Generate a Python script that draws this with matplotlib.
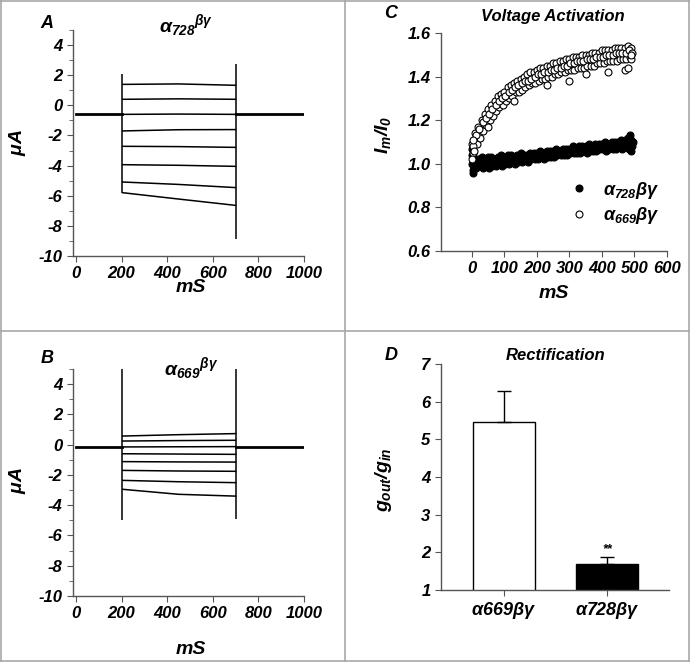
import numpy as np
import matplotlib
matplotlib.use('Agg')
import matplotlib.pyplot as plt
from matplotlib.lines import Line2D
from matplotlib.ticker import MultipleLocator, FormatStrFormatter

plt.rcParams['font.family'] = ['Liberation Sans', 'DejaVu Sans']
plt.rcParams['font.weight'] = 'bold'
plt.rcParams['font.style'] = 'italic'
plt.rcParams['axes.unicode_minus'] = False
plt.rcParams['mathtext.fontset'] = 'custom'
plt.rcParams['mathtext.rm'] = 'Liberation Sans:bold:italic'
plt.rcParams['mathtext.it'] = 'Liberation Sans:bold:italic'
plt.rcParams['mathtext.bf'] = 'Liberation Sans:bold:italic'

# ---- panel A: alpha728 beta gamma current traces (uA) ----
a_base = -0.6
a_start = [1.39, 0.40, -0.60, -1.70, -2.72, -3.94, -5.09, -5.80]
a_mid = [1.42, 0.43, -0.58, -1.62, -2.74, -3.98, -5.25, -6.22]
a_end = [1.33, 0.40, -0.60, -1.61, -2.79, -4.05, -5.46, -6.64]
a_spike_t = [200, 700]
a_spike_lo = [-5.80, -8.85]
a_spike_hi = [2.06, 2.77]

# ---- panel B: alpha669 beta gamma current traces (uA) ----
b_base = -0.15
b_start = [0.57, 0.24, -0.15, -0.60, -1.12, -1.70, -2.36, -2.95]
b_mid = [0.66, 0.27, -0.14, -0.62, -1.14, -1.74, -2.45, -3.28]
b_end = [0.73, 0.29, -0.13, -0.64, -1.15, -1.76, -2.51, -3.40]
b_spike_t = [200, 700]
b_spike_lo = [-5.0, -4.9]
b_spike_hi = [5.0, 5.0]

trace_t = [205, 450, 700]

# ---- panel C: voltage activation Im/I0 ----
c728_t1 = list(range(0, 500, 10))
c728_y1 = [1.00, 1.02, 1.02, 1.03, 1.02, 1.03, 1.03, 1.02, 1.03, 1.04,
           1.03, 1.04, 1.04, 1.03, 1.04, 1.05, 1.04, 1.04, 1.05, 1.05,
           1.05, 1.06, 1.05, 1.06, 1.06, 1.06, 1.07, 1.06, 1.07, 1.07,
           1.07, 1.08, 1.07, 1.08, 1.08, 1.08, 1.09, 1.08, 1.09, 1.09,
           1.09, 1.10, 1.09, 1.10, 1.10, 1.10, 1.11, 1.11, 1.12, 1.11]
c728_t2 = list(range(3, 500, 10))
c728_y2 = [0.97, 0.98, 0.99, 0.98, 0.99, 0.98, 0.99, 0.99, 1.00, 0.99,
           1.00, 1.00, 1.01, 1.00, 1.01, 1.01, 1.02, 1.01, 1.02, 1.02,
           1.02, 1.03, 1.02, 1.03, 1.03, 1.03, 1.04, 1.04, 1.04, 1.04,
           1.05, 1.05, 1.05, 1.05, 1.06, 1.05, 1.06, 1.06, 1.06, 1.07,
           1.07, 1.06, 1.07, 1.07, 1.07, 1.08, 1.07, 1.08, 1.07, 1.08]
c728_t3 = list(range(6, 500, 10))
c728_y3 = [0.99, 1.00, 1.01, 1.00, 1.01, 1.00, 1.01, 1.01, 1.02, 1.01,
           1.02, 1.02, 1.03, 1.02, 1.03, 1.03, 1.03, 1.03, 1.04, 1.03,
           1.04, 1.04, 1.04, 1.05, 1.04, 1.05, 1.05, 1.05, 1.06, 1.05,
           1.06, 1.06, 1.06, 1.07, 1.07, 1.07, 1.07, 1.07, 1.08, 1.08,
           1.08, 1.08, 1.08, 1.09, 1.08, 1.09, 1.09, 1.10, 1.09, 1.10]
c728_t4 = [1, 2, 4, 480, 485, 490]
c728_y4 = [1.04, 1.07, 0.96, 1.12, 1.13, 1.06]

c669_t1 = list(range(0, 500, 10))
c669_y1 = [1.09, 1.14, 1.17, 1.20, 1.23, 1.25, 1.27, 1.29, 1.31, 1.32,
           1.33, 1.35, 1.36, 1.37, 1.38, 1.39, 1.40, 1.41, 1.42, 1.42,
           1.43, 1.44, 1.44, 1.45, 1.45, 1.46, 1.46, 1.47, 1.47, 1.48,
           1.48, 1.49, 1.49, 1.49, 1.50, 1.50, 1.50, 1.51, 1.51, 1.51,
           1.52, 1.52, 1.52, 1.52, 1.53, 1.53, 1.53, 1.53, 1.54, 1.53]
c669_t2 = list(range(5, 495, 10)) + [489]
c669_y2 = [1.05, 1.09, 1.12, 1.15, 1.18, 1.20, 1.22, 1.24, 1.26, 1.27,
           1.29, 1.30, 1.31, 1.33, 1.33, 1.34, 1.35, 1.36, 1.37, 1.37,
           1.38, 1.39, 1.39, 1.40, 1.40, 1.41, 1.41, 1.42, 1.42, 1.43,
           1.43, 1.43, 1.44, 1.44, 1.44, 1.45, 1.45, 1.45, 1.46, 1.46,
           1.46, 1.47, 1.47, 1.47, 1.47, 1.48, 1.48, 1.48, 1.49, 1.48]
c669_t3 = list(range(3, 500, 10))
c669_y3 = [1.08, 1.13, 1.16, 1.19, 1.21, 1.23, 1.25, 1.27, 1.29, 1.30,
           1.31, 1.33, 1.34, 1.35, 1.36, 1.37, 1.38, 1.38, 1.39, 1.40,
           1.41, 1.41, 1.42, 1.42, 1.43, 1.43, 1.44, 1.44, 1.45, 1.45,
           1.46, 1.46, 1.47, 1.47, 1.47, 1.48, 1.48, 1.48, 1.49, 1.49,
           1.49, 1.50, 1.50, 1.50, 1.51, 1.51, 1.51, 1.51, 1.52, 1.51]
c669_t4 = [2, 4, 8, 50, 130, 230, 300, 350, 420, 470, 480, 490]
c669_y4 = [1.02, 1.11, 1.06, 1.17, 1.29, 1.36, 1.38, 1.41, 1.42, 1.43, 1.44, 1.50]

# ---- panel D: rectification ----
d_labels = [r'$\alpha669\beta\gamma$', r'$\alpha728\beta\gamma$']
d_values = [5.47, 1.70]
d_errors = [0.81, 0.17]
d_colors = ['white', 'black']

spine_col = '#555555'

fig = plt.figure(figsize=(6.9, 6.62), dpi=100)


def style_axes(ax):
    for s in ['top', 'right']:
        ax.spines[s].set_visible(False)
    for s in ['left', 'bottom']:
        ax.spines[s].set_color(spine_col)
        ax.spines[s].set_linewidth(1.0)
    ax.tick_params(which='both', direction='out', color=spine_col, labelsize=12)
    ax.tick_params(which='major', length=4)
    ax.tick_params(which='minor', length=3)


def draw_traces(ax, base, start, mid, end, sp_t, sp_lo, sp_hi):
    ax.plot([0, 200], [base, base], color='black', lw=2.0)
    ax.plot([700, 1000], [base, base], color='black', lw=2.0)
    for s, m, e in zip(start, mid, end):
        ax.plot(trace_t, [s, m, e], color='black', lw=1.1)
    ax.vlines(sp_t, sp_lo, sp_hi, color='black', lw=1.1)
    ax.set_xlim(-13, 1000)
    ax.set_ylim(-10, 5)
    ax.xaxis.set_major_locator(MultipleLocator(200))
    ax.yaxis.set_major_locator(MultipleLocator(2))
    ax.yaxis.set_minor_locator(MultipleLocator(1))
    style_axes(ax)


# panel A
axA = fig.add_axes([0.1058, 0.6133, 0.3348, 0.3414])
draw_traces(axA, a_base, a_start, a_mid, a_end, a_spike_t, a_spike_lo, a_spike_hi)

# panel B
axB = fig.add_axes([0.1058, 0.0997, 0.3348, 0.3429])
draw_traces(axB, b_base, b_start, b_mid, b_end, b_spike_t, b_spike_lo, b_spike_hi)

# panel C
axC = fig.add_axes([0.639, 0.6208, 0.3277, 0.3294])
t728 = c728_t1 + c728_t2 + c728_t3 + c728_t4
y728 = c728_y1 + c728_y2 + c728_y3 + c728_y4
t669 = c669_t1 + c669_t2 + c669_t3 + c669_t4
y669 = c669_y1 + c669_y2 + c669_y3 + c669_y4
axC.plot(t728, y728, 'o', ms=5, mfc='black', mec='black', mew=0.8,
         label=r'$\alpha_{728}\beta\gamma$')
axC.plot(t669, y669, 'o', ms=5, mfc='white', mec='black', mew=0.8,
         label=r'$\alpha_{669}\beta\gamma$')
axC.set_xlim(-95, 600)
axC.set_ylim(0.6, 1.6)
axC.set_xticks(np.arange(0, 601, 100))
axC.set_yticks(np.arange(0.6, 1.61, 0.2))
axC.yaxis.set_major_formatter(FormatStrFormatter('%.1f'))
style_axes(axC)
axC.legend(loc='center left', bbox_to_anchor=(0.5, 0.22), frameon=False,
           fontsize=13, handletextpad=0.8, labelspacing=0.25, handlelength=1,
           markerscale=1.0)

# panel D
axD = fig.add_axes([0.639, 0.1088, 0.3306, 0.3414])
xd = np.arange(len(d_values))
axD.bar(xd, d_values, width=0.6, color=d_colors, edgecolor='black', lw=1.0)
axD.errorbar(xd, d_values, yerr=[[0, 0], d_errors], fmt='none', ecolor='black',
             elinewidth=1.0, capsize=5, capthick=1.0)
axD.text(xd[1], d_values[1] + d_errors[1] + 0.05, '**', ha='center', va='bottom',
         fontsize=9)
axD.set_xlim(-0.61, 1.6)
axD.set_ylim(1, 7)
axD.set_xticks(xd)
axD.set_xticklabels(d_labels)
axD.yaxis.set_major_locator(MultipleLocator(1))
style_axes(axD)
axD.tick_params(axis='x', labelsize=13, pad=3)


def ftxt(px, py, s, **kw):
    fig.text(px / 690, 1 - py / 662, s, ha='center', va='center', **kw)


# panel letters, titles and axis labels
ftxt(47, 24, 'A', fontsize=13)
ftxt(47, 358, 'B', fontsize=13)
ftxt(391, 14, 'C', fontsize=13)
ftxt(391, 356, 'D', fontsize=13)

ftxt(186, 26, r'$\alpha_{728}{}^{\beta\gamma}$', fontsize=14)
ftxt(191, 369, r'$\alpha_{669}{}^{\beta\gamma}$', fontsize=14)
ftxt(553, 16, 'Voltage Activation', fontsize=12)
ftxt(556, 356, 'Rectification', fontsize=12)

ftxt(18, 143, r'$\mu A$', fontsize=14, rotation=90)
ftxt(18, 481, r'$\mu A$', fontsize=14, rotation=90)
ftxt(383, 135, r'$I_m/I_0$', fontsize=14, rotation=90)
ftxt(384, 480, r'$g_{out}/g_{in}$', fontsize=14, rotation=90)

ftxt(191, 287, 'mS', fontsize=14)
ftxt(191, 649, 'mS', fontsize=14)
ftxt(554, 294, 'mS', fontsize=14)

# panel frame lines
grey = '#a8a8a8'
for seg in [([345, 345], [0, 662]), ([0, 690], [331, 331]),
            ([1, 1], [0, 662]), ([689, 689], [0, 662]),
            ([0, 690], [1, 1]), ([0, 690], [661, 661])]:
    fig.add_artist(Line2D(np.array(seg[0]) / 690, 1 - np.array(seg[1]) / 662,
                          color=grey, lw=1.2))

fig.savefig('out.png', dpi=100)
